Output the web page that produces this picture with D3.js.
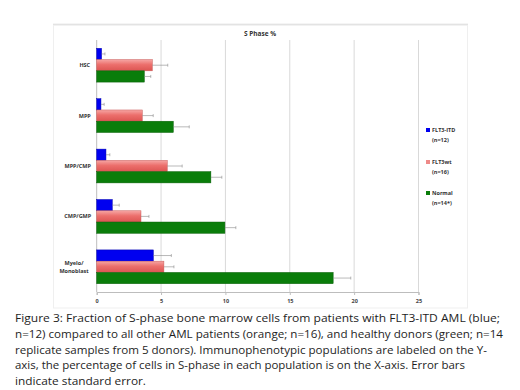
<!DOCTYPE html>
<html>
<head>
	<meta charset="utf-8">
	<script src="https://cdn.jsdelivr.net/npm/d3@7/dist/d3.min.js"></script>
	<style>
		body { margin: 0; background: #fff; }
		text { font-family: "Open Sans", "Liberation Sans", sans-serif; }
	</style>
</head>
<body>
	<svg id="chart" width="520" height="390"></svg>

	<script>
		// populations on the y axis
		var populations = ['HSC', 'MPP', 'MPP/CMP', 'CMP/GMP', 'Myelo/\nMonoblast'];
		var groups = ['FLT3-ITD', 'FLT3wt', 'Normal'];
		var groupNotes = ['(n=12)', '(n=16)', '(n=14*)'];

		// S phase %, one array per group
		var itdValues = [0.38, 0.33, 0.72, 1.21, 4.4];
		var wtValues = [4.32, 3.54, 5.48, 3.44, 5.22];
		var normalValues = [3.7, 5.95, 8.87, 9.96, 18.37];

		// standard error (positive side only is drawn)
		var itdErr = [0.26, 0.25, 0.3, 0.54, 1.4];
		var wtErr = [1.2, 0.85, 1.16, 0.62, 0.78];
		var normalErr = [0.5, 1.24, 0.85, 0.85, 1.37];

		var xTicks = [0, 5, 10, 15, 20, 25];

		var caption = [
			'Figure 3: Fraction of S-phase bone marrow cells from patients with FLT3-ITD AML (blue;',
			'n=12) compared to all other AML patients (orange; n=16), and healthy donors (green; n=14',
			'replicate samples from 5 donors). Immunophenotypic populations are labeled on the Y-',
			'axis, the percentage of cells in S-phase in each population is on the X-axis. Error bars',
			'indicate standard error.'
		];
		var captionWidths = [485, 488, 472, 450, 131];

		var series = [itdValues, wtValues, normalValues];
		var errors = [itdErr, wtErr, normalErr];

		var svg = d3.select('#chart');

		var defs = svg.append('defs');
		var grad = defs.append('linearGradient')
			.attr('id', 'pink')
			.attr('x1', 0).attr('y1', 0).attr('x2', 0).attr('y2', 1);
		grad.append('stop').attr('offset', '0%').attr('stop-color', '#f6a6a4');
		grad.append('stop').attr('offset', '45%').attr('stop-color', '#ec6f6c');
		grad.append('stop').attr('offset', '100%').attr('stop-color', '#dc5552');

		var fills = ['#0000f0', 'url(#pink)', '#0a7d0a'];
		var strokes = ['#0000b0', '#c85a58', '#075f07'];
		var legendFills = ['#0000f0', '#ee8a88', '#0a7d0a'];

		// chart frame
		svg.append('line')
			.attr('x1', 53).attr('x2', 468).attr('y1', 24.5).attr('y2', 24.5)
			.attr('stroke', '#d6d6d6').attr('stroke-width', 1.5);
		svg.append('rect')
			.attr('x', 53.5).attr('y', 25).attr('width', 414).attr('height', 283)
			.attr('fill', 'none').attr('stroke', '#efefef');

		var x = d3.scaleLinear().domain([0, 25]).range([96.7, 418.5]);
		var y = d3.scaleBand().domain(populations).range([40, 292]).paddingInner(0.33).paddingOuter(0.165);
		var yIn = d3.scaleBand().domain(groups).range([0, y.bandwidth()]);

		// grid
		svg.append('g')
			.selectAll('line')
			.data(xTicks.slice(1))
			.enter()
			.append('line')
			.attr('x1', d => x(d)).attr('x2', d => x(d))
			.attr('y1', 40).attr('y2', 292)
			.attr('stroke', '#d9d9d9');

		// axes
		var xAxis = svg.append('g')
			.attr('transform', 'translate(0,292)')
			.call(d3.axisBottom(x).tickValues(xTicks).tickSize(3).tickPadding(4));
		xAxis.select('.domain').attr('stroke', '#bdbdbd');
		xAxis.selectAll('.tick line').attr('stroke', '#bdbdbd');
		xAxis.selectAll('.tick text')
			.attr('font-size', 5.5).attr('font-weight', 'bold').attr('fill', '#444');

		svg.append('line')
			.attr('x1', x(0)).attr('x2', x(0)).attr('y1', 40).attr('y2', 292)
			.attr('stroke', '#bdbdbd');

		// y labels
		var yLab = svg.append('g').selectAll('text')
			.data(populations)
			.enter()
			.append('text')
			.attr('font-size', 5.5).attr('font-weight', 'bold').attr('fill', '#333')
			.attr('text-anchor', 'middle')
			.attr('x', d => d.indexOf('\n') >= 0 ? 74 : 90 - d.length * 1.75)
			.attr('y', d => y(d) + y.bandwidth() / 2 + 2);
		yLab.each(function (d) {
			var lines = d.split('\n');
			var t = d3.select(this);
			lines.forEach((l, i) => {
				t.append('tspan')
					.attr('x', t.attr('x'))
					.attr('dy', i === 0 ? (lines.length > 1 ? -3.5 : 0) : 7.5)
					.text(l);
			});
		});

		// bars
		groups.forEach((g, gi) => {
			var layer = svg.append('g');
			layer.selectAll('rect')
				.data(populations)
				.enter()
				.append('rect')
				.attr('x', x(0))
				.attr('y', d => y(d) + yIn(g))
				.attr('width', (d, i) => x(series[gi][i]) - x(0))
				.attr('height', yIn.bandwidth())
				.attr('fill', fills[gi])
				.attr('stroke', strokes[gi])
				.attr('stroke-width', 0.5);

			// error bars
			var eb = layer.selectAll('g.err')
				.data(populations)
				.enter()
				.append('g')
				.attr('stroke', '#8a8a8a')
				.attr('stroke-width', 0.6);
			eb.append('line')
				.attr('x1', (d, i) => x(series[gi][i]))
				.attr('x2', (d, i) => x(series[gi][i] + errors[gi][i]))
				.attr('y1', d => y(d) + yIn(g) + yIn.bandwidth() / 2)
				.attr('y2', d => y(d) + yIn(g) + yIn.bandwidth() / 2);
			eb.append('line')
				.attr('x1', (d, i) => x(series[gi][i] + errors[gi][i]))
				.attr('x2', (d, i) => x(series[gi][i] + errors[gi][i]))
				.attr('y1', d => y(d) + yIn(g) + yIn.bandwidth() / 2 - 1.5)
				.attr('y2', d => y(d) + yIn(g) + yIn.bandwidth() / 2 + 1.5);
		});

		// title
		svg.append('text')
			.attr('x', 260).attr('y', 36)
			.attr('text-anchor', 'middle')
			.attr('font-size', 6.5).attr('font-weight', 'bold').attr('fill', '#333')
			.text('S Phase %');

		// legend
		var legendY = [130, 162, 193];
		var leg = svg.append('g').selectAll('g')
			.data(groups)
			.enter()
			.append('g')
			.attr('transform', (d, i) => 'translate(426,' + legendY[i] + ')');
		leg.append('rect')
			.attr('x', 0).attr('y', -2).attr('width', 4).attr('height', 4)
			.attr('fill', (d, i) => legendFills[i]);
		leg.append('text')
			.attr('x', 6).attr('y', 2)
			.attr('font-size', 5.5).attr('font-weight', 'bold').attr('fill', '#333')
			.text(d => d);
		leg.append('text')
			.attr('x', 6).attr('y', 12)
			.attr('font-size', 5.5).attr('font-weight', 'bold').attr('fill', '#333')
			.text((d, i) => groupNotes[i]);

		// caption
		svg.append('g').selectAll('text')
			.data(caption)
			.enter()
			.append('text')
			.attr('x', 15)
			.attr('y', (d, i) => 322 + i * 15.8)
			.attr('font-size', 11.5)
			.attr('fill', '#1e1e1e')
			.attr('textLength', (d, i) => captionWidths[i])
			.attr('lengthAdjust', 'spacingAndGlyphs')
			.text(d => d);
	</script>
</body>
</html>
